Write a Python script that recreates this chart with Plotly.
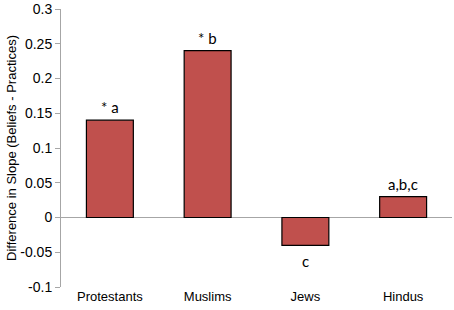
import plotly.graph_objects as go

categories = ["Protestants", "Muslims", "Jews", "Hindus"]
values = [0.14, 0.24, -0.04, 0.03]
labels = ["* a", "* b", "c", "a,b,c"]
tick_vals = [-0.1, -0.05, 0, 0.05, 0.1, 0.15, 0.2, 0.25, 0.3]
tick_text = ["-0.1", "-0.05", "0", "0.05", "0.1", "0.15", "0.2", "0.25", "0.3"]

fig = go.Figure()
fig.add_trace(go.Bar(
    x=categories, y=values, width=0.48,
    marker=dict(color="#c0504d", line=dict(color="black", width=1.2)),
))

for c, v, t in zip(categories, values, labels):
    fig.add_annotation(
        x=c, y=v, xref="x", yref="y", text=t, showarrow=False,
        yanchor="bottom" if v >= 0 else "top",
        yshift=2 if v >= 0 else -5,
        font=dict(family="Lato", size=15, color="black"),
    )

fig.update_layout(
    width=454, height=310,
    margin=dict(l=61, r=2, t=9, b=23),
    paper_bgcolor="white", plot_bgcolor="white",
    showlegend=False,
    font=dict(family="Liberation Sans", size=13, color="black"),
)
fig.update_xaxes(showline=False, showgrid=False, ticks="", tickfont=dict(size=13))
fig.update_yaxes(
    range=[-0.1, 0.3], tickvals=tick_vals, ticktext=tick_text,
    showgrid=False, showline=True, linecolor="#a6a6a6", linewidth=1,
    ticks="outside", ticklen=5, tickcolor="#a6a6a6",
    zeroline=True, zerolinecolor="#a6a6a6", zerolinewidth=1,
    title=dict(text="Difference in Slope (Beliefs - Practices)", font=dict(size=13), standoff=0),
    tickfont=dict(size=14),
)

fig.write_html("out.html", config={"displayModeBar": False},
               post_script="document.body.style.margin='0';")
